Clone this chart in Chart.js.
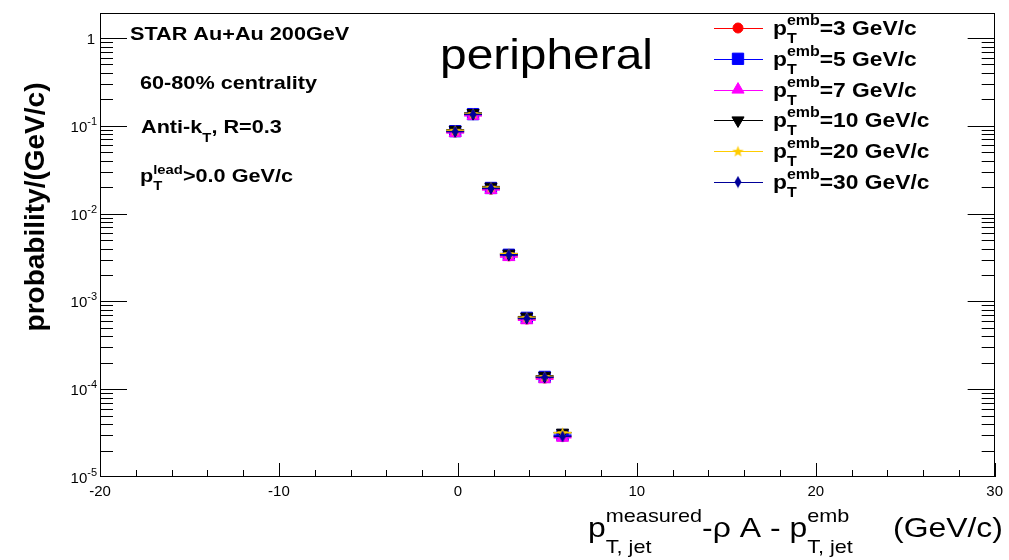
<!DOCTYPE html>
<html>
<head>
<meta charset="utf-8">
<script src="https://cdn.jsdelivr.net/npm/chart.js@4.4.1/dist/chart.umd.min.js"></script>
<style>
  html, body { margin: 0; padding: 0; background: #fff; }
  #c { display: block; }
</style>
</head>
<body>
<canvas id="c" width="1009" height="560"></canvas>
<script>
// bin centres of the residual distribution (GeV/c) and half bin width
const xCenters = [-0.15, 0.85, 1.85, 2.85, 3.85, 4.85, 5.85];
const xHalfWidth = 0.5;

// probability per embedded pT
const embPt = ['3', '5', '7', '10', '20', '30'];
const prob3  = [0.085, 0.134, 0.0190, 0.0033, 6.3e-4, 1.34e-4, 2.9e-5];
const prob5  = [0.087, 0.136, 0.0196, 0.0034, 6.5e-4, 1.38e-4, 3.0e-5];
const prob7  = [0.083, 0.130, 0.0186, 0.0032, 6.1e-4, 1.30e-4, 2.8e-5];
const prob10 = [0.090, 0.140, 0.0203, 0.0035, 6.7e-4, 1.42e-4, 3.2e-5];
const prob20 = [0.089, 0.138, 0.0200, 0.0035, 6.6e-4, 1.40e-4, 3.2e-5];
const prob30 = [0.086, 0.135, 0.0194, 0.0034, 6.4e-4, 1.37e-4, 2.9e-5];

const xTicks = [-20, -10, 0, 10, 20, 30];

const FONT = '"Liberation Sans", Arial, Helvetica, sans-serif';
const SX = 1.14; // ROOT text looks a bit wide

function makeStar(color) {
    const c = document.createElement('canvas');
    c.width = 13; c.height = 13;
    const g = c.getContext('2d');
    g.fillStyle = color;
    g.beginPath();
    for (let i = 0; i < 10; i++) {
        const r = i % 2 === 0 ? 6 : 2.5;
        const a = -Math.PI / 2 + i * Math.PI / 5;
        const px = 6.5 + r * Math.cos(a), py = 7 + r * Math.sin(a);
        if (i === 0) g.moveTo(px, py); else g.lineTo(px, py);
    }
    g.closePath();
    g.fill();
    return c;
}

function makeDiamond(color) {
    const c = document.createElement('canvas');
    c.width = 8; c.height = 13;
    const g = c.getContext('2d');
    g.fillStyle = color;
    g.beginPath();
    g.moveTo(4, 0.5); g.lineTo(7.5, 6.5); g.lineTo(4, 12.5); g.lineTo(0.5, 6.5);
    g.closePath();
    g.fill();
    return c;
}

const styles = [
    { color: '#ff0000', pointStyle: 'circle', radius: 5, rotation: 0 },
    { color: '#0000ff', pointStyle: 'rect', radius: 8, rotation: 0 },
    { color: '#ff00ff', pointStyle: 'triangle', radius: 7, rotation: 0 },
    { color: '#000000', pointStyle: 'triangle', radius: 7, rotation: 180 },
    { color: '#ffcc00', pointStyle: makeStar('#ffcc00'), radius: 6, rotation: 0 },
    { color: '#000099', pointStyle: makeDiamond('#000099'), radius: 6, rotation: 0 }
];
const series = [prob3, prob5, prob7, prob10, prob20, prob30];

const datasets = series.map((vals, i) => ({
    label: 'pT emb = ' + embPt[i] + ' GeV/c',
    data: vals.map((v, j) => ({ x: xCenters[j], y: v })),
    showLine: false,
    pointStyle: styles[i].pointStyle,
    pointRadius: styles[i].radius,
    pointRotation: styles[i].rotation,
    pointBackgroundColor: styles[i].color,
    pointBorderColor: styles[i].color,
    pointBorderWidth: 1,
    pointHoverRadius: styles[i].radius,
    order: series.length - i   // later series on top, like ROOT
}));

// text helper: draws stretched text, returns advance
function txt(ctx, s, x, y, size, bold, sx) {
    sx = sx || SX;
    ctx.save();
    ctx.font = (bold ? 'bold ' : '') + size + 'px ' + FONT;
    ctx.textAlign = 'left';
    ctx.textBaseline = 'alphabetic';
    ctx.fillStyle = '#000';
    ctx.translate(x, y);
    ctx.scale(sx, 1);
    ctx.fillText(s, 0, 0);
    const w = ctx.measureText(s).width * sx;
    ctx.restore();
    return w;
}

// p with superscript and subscript stacked
function pSym(ctx, x, y, size, small, sup, sub, bold, supUp, subDown) {
    let w = txt(ctx, 'p', x, y, size, bold);
    const w1 = txt(ctx, sup, x + w, y - supUp, small, bold);
    const w2 = txt(ctx, sub, x + w, y + subDown, small, bold);
    return w + Math.max(w1, w2);
}

const errorBars = {
    id: 'errorBars',
    beforeDatasetDraw(chart, args) {
        const ctx = chart.ctx;
        const xs = chart.scales.x, ys = chart.scales.y;
        const vals = series[args.index];
        ctx.save();
        ctx.strokeStyle = styles[args.index].color;
        ctx.lineWidth = 1.5;
        vals.forEach((v, j) => {
            const y = ys.getPixelForValue(v);
            ctx.beginPath();
            ctx.moveTo(xs.getPixelForValue(xCenters[j] - xHalfWidth), y);
            ctx.lineTo(xs.getPixelForValue(xCenters[j] + xHalfWidth), y);
            ctx.stroke();
        });
        ctx.restore();
    }
};

const frameAndText = {
    id: 'frameAndText',
    afterDraw(chart) {
        const ctx = chart.ctx;
        const a = chart.chartArea;
        const xs = chart.scales.x, ys = chart.scales.y;
        ctx.save();
        ctx.strokeStyle = '#000';
        ctx.lineWidth = 1;
        ctx.strokeRect(Math.round(a.left) + 0.5, Math.round(a.top) + 0.5,
            Math.round(a.right - a.left) - 1, Math.round(a.bottom - a.top) - 1);

        // x ticks (inside, bottom)
        ctx.beginPath();
        for (let v = xTicks[0]; v <= xTicks[xTicks.length - 1]; v += 2) {
            const px = Math.round(xs.getPixelForValue(v)) + 0.5;
            const len = v % 10 === 0 ? 14 : 7;
            ctx.moveTo(px, a.bottom);
            ctx.lineTo(px, a.bottom - len);
        }
        // y ticks (inside, left and right)
        for (let d = -5; d <= 0; d++) {
            for (let m = 1; m <= 9; m++) {
                const v = m * Math.pow(10, d);
                if (v > ys.max) continue;
                const py = Math.round(ys.getPixelForValue(v)) + 0.5;
                if (py < a.top || py > a.bottom) continue;
                const len = m === 1 ? 27 : 13;
                ctx.moveTo(a.left, py); ctx.lineTo(a.left + len, py);
                ctx.moveTo(a.right, py); ctx.lineTo(a.right - len, py);
            }
        }
        ctx.stroke();

        // y labels
        for (let d = 0; d >= -5; d--) {
            const py = ys.getPixelForValue(Math.pow(10, d));
            ctx.fillStyle = '#000';
            if (d === 0) {
                ctx.font = '15px ' + FONT;
                const w = ctx.measureText('1').width;
                txt(ctx, '1', 95 - w, py + 6, 15, false, 1);
            } else {
                ctx.font = '11px ' + FONT;
                const ws = ctx.measureText(String(d)).width;
                ctx.font = '15px ' + FONT;
                const wb = ctx.measureText('10').width;
                const x0 = 97 - ws - wb;
                txt(ctx, '10', x0, py + 6, 15, false, 1);
                txt(ctx, String(d), x0 + wb, py - 1, 11, false, 1);
            }
        }

        // y title
        ctx.save();
        ctx.translate(44, 207);
        ctx.rotate(-Math.PI / 2);
        ctx.font = 'bold 28px ' + FONT;
        ctx.textAlign = 'center';
        ctx.textBaseline = 'alphabetic';
        ctx.fillStyle = '#000';
        ctx.fillText('probability/(GeV/c)', 0, 0);
        ctx.restore();

        // x title
        let x = 588;
        const yb = 537;
        x += pSym(ctx, x, yb, 28, 19, 'measured', 'T, jet', false, 15, 16);
        x += txt(ctx, '-\u03c1 A - ', x, yb, 28, false);
        pSym(ctx, x, yb, 28, 19, 'emb', 'T, jet', false, 15, 16);
        txt(ctx, '(GeV/c)', 893, yb, 28, false);

        // annotations
        txt(ctx, 'STAR Au+Au 200GeV', 130, 40, 19, true);
        txt(ctx, '60-80% centrality', 140, 89, 19, true);
        let xa = 141;
        xa += txt(ctx, 'Anti-k', xa, 133, 19, true);
        xa += txt(ctx, 'T', xa, 142, 13, true);
        txt(ctx, ', R=0.3', xa, 133, 19, true);
        let xp = 140;
        xp += pSym(ctx, xp, 182, 19, 13, 'lead', 'T', true, 8, 8);
        txt(ctx, '>0.0 GeV/c', xp, 182, 19, true);
        txt(ctx, 'peripheral', 440, 69, 42, false);

        // legend
        for (let i = 0; i < series.length; i++) {
            const ry = 28 + i * 30.8;
            const st = styles[i];
            ctx.save();
            ctx.strokeStyle = st.color;
            ctx.fillStyle = st.color;
            ctx.lineWidth = 1;
            ctx.beginPath();
            ctx.moveTo(714, Math.round(ry) + 0.5);
            ctx.lineTo(763, Math.round(ry) + 0.5);
            ctx.stroke();
            Chart.helpers.drawPoint(ctx, {
                pointStyle: st.pointStyle, radius: st.radius,
                rotation: st.rotation, borderWidth: 1
            }, 738, ry);
            ctx.restore();
            let lx = 773;
            lx += pSym(ctx, lx, ry + 7, 20, 14, 'emb', 'T', true, 10, 8);
            txt(ctx, '=' + embPt[i] + ' GeV/c', lx, ry + 7, 20, true);
        }
        ctx.restore();
    }
};

new Chart(document.getElementById('c'), {
    type: 'scatter',
    data: { datasets: datasets },
    options: {
        responsive: false,
        animation: false,
        devicePixelRatio: 1,
        layout: { padding: { top: 13, right: 9, left: 0, bottom: 0 } },
        plugins: {
            legend: { display: false },
            tooltip: { enabled: false }
        },
        scales: {
            x: {
                type: 'linear',
                min: -20,
                max: 30,
                afterBuildTicks(scale) {
                    scale.ticks = xTicks.map(v => ({ value: v }));
                },
                afterFit(scale) { scale.height = 83; },
                grid: { display: false, drawTicks: false },
                border: { display: false },
                ticks: {
                    padding: 6,
                    color: '#000',
                    maxRotation: 0,
                    font: { family: FONT, size: 15 }
                }
            },
            y: {
                type: 'logarithmic',
                min: 1e-5,
                max: 1.93,
                afterFit(scale) { scale.width = 100; },
                grid: { display: false, drawTicks: false },
                border: { display: false },
                ticks: { display: false }
            }
        }
    },
    plugins: [errorBars, frameAndText]
});
</script>
</body>
</html>
